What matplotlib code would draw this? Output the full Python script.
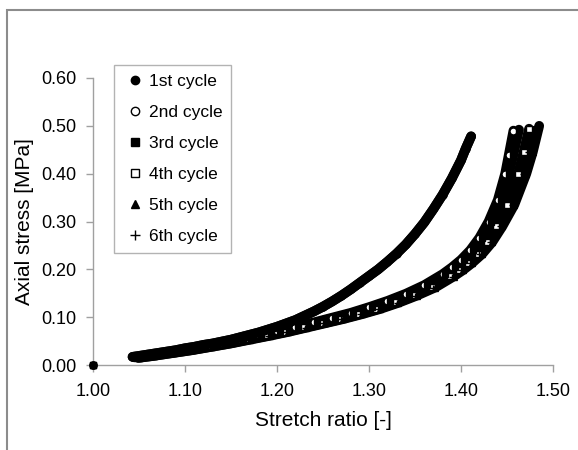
import matplotlib
matplotlib.use("Agg")
import matplotlib.pyplot as plt
from matplotlib.lines import Line2D
from matplotlib.patches import Rectangle
from matplotlib.ticker import FormatStrFormatter

plt.rcParams['font.family'] = ['Liberation Sans', 'DejaVu Sans']

# stretch ratio [-] and axial stress [MPa]
c1_x = [1.00, 1.043, 1.05, 1.06, 1.07, 1.08, 1.09, 1.10, 1.11, 1.12, 1.13, 1.14, 1.15,
        1.16, 1.17, 1.18, 1.19, 1.20, 1.21, 1.22, 1.23, 1.24, 1.25, 1.26, 1.27, 1.28,
        1.29, 1.30, 1.31, 1.32, 1.33, 1.34, 1.35, 1.36, 1.37, 1.38, 1.39, 1.40, 1.405, 1.411]
c1_y = [0.000, 0.017, 0.019, 0.022, 0.025, 0.028, 0.031, 0.035, 0.038, 0.042, 0.045, 0.049, 0.053,
        0.058, 0.063, 0.068, 0.074, 0.080, 0.087, 0.094, 0.103, 0.112, 0.122, 0.133, 0.145, 0.158,
        0.172, 0.186, 0.200, 0.216, 0.233, 0.252, 0.274, 0.298, 0.326, 0.356, 0.390, 0.428, 0.452, 0.478]

c2_x = [1.00, 1.045, 1.06, 1.08, 1.10, 1.12, 1.14, 1.16, 1.18, 1.20, 1.22, 1.24, 1.26, 1.28,
        1.30, 1.32, 1.34, 1.36, 1.38, 1.39, 1.40, 1.41, 1.42, 1.43, 1.44, 1.448, 1.452, 1.457]
c2_y = [0.000, 0.016, 0.020, 0.026, 0.033, 0.040, 0.047, 0.055, 0.063, 0.072, 0.080, 0.089, 0.099, 0.109,
        0.121, 0.134, 0.149, 0.167, 0.190, 0.204, 0.220, 0.240, 0.266, 0.300, 0.345, 0.400, 0.440, 0.490]

c3_x = [1.00, 1.046, 1.062, 1.082, 1.102, 1.122, 1.143, 1.163, 1.183, 1.203, 1.223, 1.243, 1.263, 1.283,
        1.303, 1.323, 1.343, 1.363, 1.383, 1.393, 1.403, 1.413, 1.423, 1.433, 1.443, 1.452, 1.457, 1.463]
c3_y = [0.000, 0.016, 0.020, 0.026, 0.033, 0.040, 0.047, 0.055, 0.063, 0.072, 0.080, 0.089, 0.099, 0.109,
        0.121, 0.134, 0.149, 0.167, 0.190, 0.204, 0.220, 0.240, 0.266, 0.300, 0.345, 0.400, 0.440, 0.492]

c4_x = [1.00, 1.048, 1.064, 1.085, 1.105, 1.126, 1.147, 1.167, 1.188, 1.208, 1.228, 1.248, 1.268, 1.288,
        1.308, 1.328, 1.348, 1.368, 1.388, 1.398, 1.408, 1.418, 1.428, 1.438, 1.450, 1.462, 1.468, 1.474]
c4_y = [0.000, 0.016, 0.020, 0.026, 0.032, 0.039, 0.046, 0.054, 0.062, 0.070, 0.079, 0.088, 0.097, 0.107,
        0.118, 0.131, 0.146, 0.163, 0.186, 0.199, 0.214, 0.233, 0.258, 0.290, 0.335, 0.400, 0.445, 0.494]

c5_x = [1.00, 1.050, 1.066, 1.087, 1.108, 1.129, 1.150, 1.171, 1.192, 1.212, 1.232, 1.252, 1.272, 1.292,
        1.312, 1.332, 1.352, 1.372, 1.392, 1.402, 1.412, 1.423, 1.434, 1.445, 1.458, 1.471, 1.478, 1.485]
c5_y = [0.000, 0.015, 0.019, 0.025, 0.031, 0.038, 0.045, 0.053, 0.061, 0.069, 0.078, 0.087, 0.096, 0.106,
        0.117, 0.130, 0.145, 0.162, 0.185, 0.198, 0.213, 0.232, 0.257, 0.290, 0.335, 0.400, 0.445, 0.500]

c6_x = [1.00, 1.049, 1.065, 1.086, 1.107, 1.128, 1.149, 1.169, 1.190, 1.210, 1.230, 1.250, 1.270, 1.290,
        1.310, 1.330, 1.350, 1.370, 1.390, 1.400, 1.410, 1.420, 1.431, 1.442, 1.455, 1.467, 1.473, 1.480]
c6_y = [0.000, 0.015, 0.019, 0.025, 0.031, 0.038, 0.045, 0.053, 0.061, 0.069, 0.078, 0.087, 0.096, 0.106,
        0.117, 0.130, 0.145, 0.162, 0.185, 0.198, 0.213, 0.232, 0.257, 0.290, 0.335, 0.400, 0.445, 0.490]

labels = ['1st cycle', '2nd cycle', '3rd cycle', '4th cycle', '5th cycle', '6th cycle']
markers = ['o', 'o', 's', 's', '^', '+']
faces = ['black', 'white', 'black', 'white', 'black', 'black']

cycles = [(c1_x, c1_y), (c2_x, c2_y), (c3_x, c3_y), (c4_x, c4_y), (c5_x, c5_y), (c6_x, c6_y)]

fig = plt.figure(figsize=(5.78, 4.5), dpi=100)
ax = fig.add_axes([93 / 578, 1 - 365 / 450, 460 / 578, 287 / 450])

# draw in this order so filled squares end up on top at the origin point
for i in [0, 1, 3, 5, 4, 2]:
    x, y = cycles[i]
    # dense measurement points merge into a thick band
    ax.plot(x[1:], y[1:], color='black', lw=7, solid_capstyle='round', zorder=2)
    ax.plot(x, y, linestyle='none', marker=markers[i], ms=5, mfc=faces[i],
            mec='black', mew=1.0, zorder=3, clip_on=False)
# 1st cycle band stays above the others
ax.plot(c1_x[1:], c1_y[1:], color='black', lw=7, solid_capstyle='round', zorder=4)

ax.set_xlim(1.0, 1.5)
ax.set_ylim(0.0, 0.6)
ax.set_xticks([1.0, 1.1, 1.2, 1.3, 1.4, 1.5])
ax.set_yticks([0.0, 0.1, 0.2, 0.3, 0.4, 0.5, 0.6])
ax.xaxis.set_major_formatter(FormatStrFormatter('%.2f'))
ax.yaxis.set_major_formatter(FormatStrFormatter('%.2f'))

for s in ['top', 'right']:
    ax.spines[s].set_visible(False)
for s in ['left', 'bottom']:
    ax.spines[s].set_color('#a0a0a0')
    ax.spines[s].set_linewidth(1.0)
ax.tick_params(direction='out', length=5, width=1, color='#a0a0a0',
               labelsize=13, labelcolor='black')
ax.tick_params(axis='x', pad=8)
ax.tick_params(axis='y', pad=7)

ax.set_xlabel('Stretch ratio [-]', fontsize=15, labelpad=8)
ax.set_ylabel('Axial stress [MPa]', fontsize=15, labelpad=5)

handles = [Line2D([], [], linestyle='none', marker=markers[i], ms=6 if markers[i] != '+' else 7,
                  mfc=faces[i], mec='black', mew=1.0) for i in range(6)]
leg = fig.legend(handles, labels, loc='upper left', bbox_to_anchor=(114 / 578, 1 - 65 / 450),
                 frameon=True, fancybox=False, edgecolor='#a0a0a0', fontsize=12.5,
                 labelspacing=0.92, handlelength=1.4, handletextpad=0.1, borderpad=0.5,
                 borderaxespad=0)
leg.get_frame().set_linewidth(1.0)

# outer chart frame (only left and top edges visible in the image)
fig.patches.append(Rectangle((7 / 578, -0.1), 1.2, 1 - 10 / 450 + 0.1, transform=fig.transFigure,
                             fill=False, edgecolor='#8c8c8c', lw=1.5))

fig.savefig('out.png', dpi=100)
